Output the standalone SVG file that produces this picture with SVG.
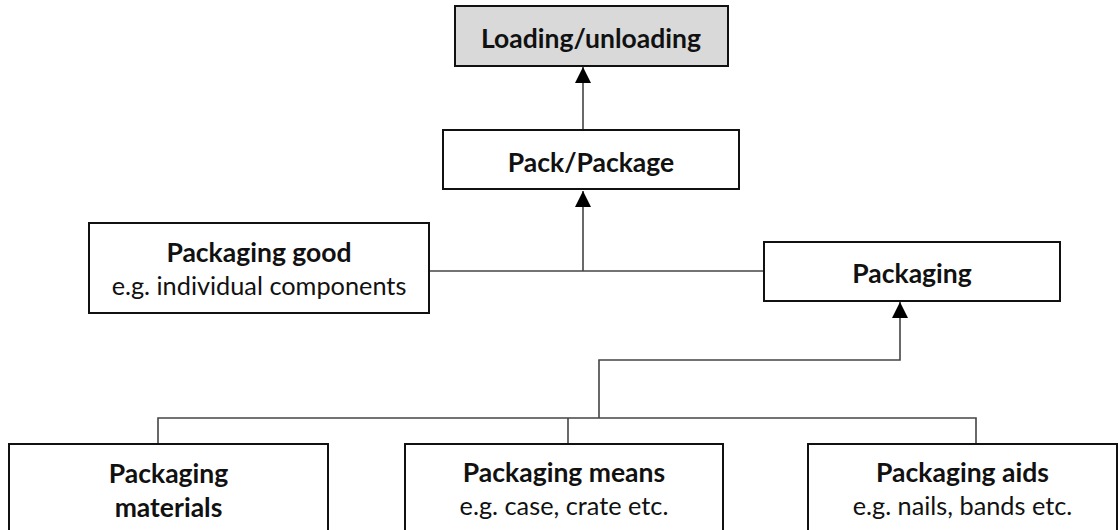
<svg xmlns="http://www.w3.org/2000/svg" width="1118" height="530" viewBox="0 0 1118 530">
<style>
.box{fill:#fff;stroke:#111;stroke-width:2}
.grey{fill:#d9d9d9}
.b{font-family:Lato,"Liberation Sans",sans-serif;font-weight:bold;font-size:26.5px;fill:#111;text-anchor:middle}
.r{font-family:Lato,"Liberation Sans",sans-serif;font-size:25.3px;fill:#111;text-anchor:middle}
.c{fill:none;stroke:#444;stroke-width:1.6}
</style>
<defs>
<marker id="ah" markerUnits="userSpaceOnUse" markerWidth="16" markerHeight="17" refX="16" refY="8" orient="auto">
<path d="M0,0 L16,8 L0,16 Z" fill="#000"/>
</marker>
</defs>
<rect width="1118" height="530" fill="#fff"/>
<g id="connectors">
<path class="c" d="M583,130 V67" marker-end="url(#ah)"/>
<path class="c" d="M429,271 H764"/>
<path class="c" d="M583,271 V191" marker-end="url(#ah)"/>
<path class="c" d="M599,418 V360 H900 V302" marker-end="url(#ah)"/>
<path class="c" d="M158,444 V418 H976 V444"/>
<path class="c" d="M568,418 V444"/>
</g>
<g id="loading">
<rect class="box grey" x="455" y="6" width="273" height="60"/>
<text class="b" x="591" y="48">Loading/unloading</text>
</g>
<g id="pack">
<rect class="box" x="443" y="130" width="296" height="59"/>
<text class="b" x="591" y="172">Pack/Package</text>
</g>
<g id="packaging-good">
<rect class="box" x="89" y="223" width="340" height="90"/>
<text class="b" x="259" y="262">Packaging good</text>
<text class="r" x="259" y="295">e.g. individual components</text>
</g>
<g id="packaging">
<rect class="box" x="764" y="242" width="296" height="59"/>
<text class="b" x="912" y="283">Packaging</text>
</g>
<g id="materials">
<rect class="box" x="9" y="444" width="319" height="100"/>
<text class="b" x="168.5" y="483">Packaging</text>
<text class="b" x="168.5" y="517">materials</text>
</g>
<g id="means">
<rect class="box" x="405" y="444" width="318" height="100"/>
<text class="b" x="564" y="482">Packaging means</text>
<text class="r" x="564" y="515">e.g. case, crate etc.</text>
</g>
<g id="aids">
<rect class="box" x="808" y="444" width="309" height="100"/>
<text class="b" x="962.5" y="482">Packaging aids</text>
<text class="r" x="962.5" y="515">e.g. nails, bands etc.</text>
</g>
</svg>
